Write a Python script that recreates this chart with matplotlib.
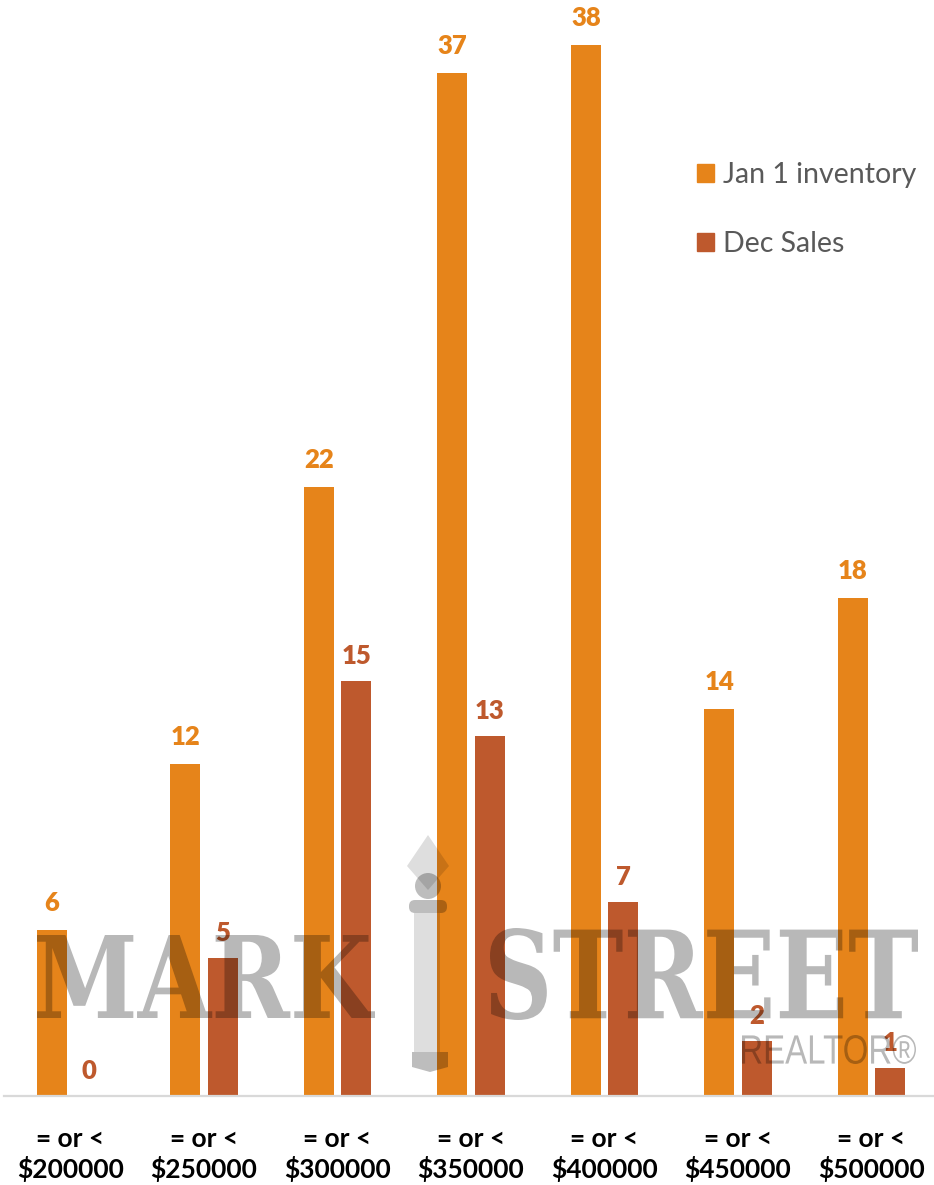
import matplotlib
matplotlib.use("Agg")
import matplotlib.pyplot as plt
import numpy as np
from matplotlib.patches import Patch, PathPatch, Polygon, Circle, FancyBboxPatch, Rectangle
from matplotlib.textpath import TextPath
from matplotlib.font_manager import FontProperties
from matplotlib.transforms import Affine2D

categories = ["= or <\n$200000", "= or <\n$250000", "= or <\n$300000", "= or <\n$350000",
              "= or <\n$400000", "= or <\n$450000", "= or <\n$500000"]
jan_inventory = [6, 12, 22, 37, 38, 14, 18]
dec_sales = [0, 5, 15, 13, 7, 2, 1]
series_names = ["Jan 1 inventory", "Dec Sales"]

C_ORANGE = "#E6841A"
C_DARK = "#BE592D"
FONT = "Lato"

W, H = 934, 1185
fig = plt.figure(figsize=(W / 100, H / 100), dpi=100)
base_y = 1096
px_per_unit = 27.66
ymax = (base_y - 0.5) / px_per_unit
ax = fig.add_axes([3.75 / W, (H - base_y) / H, 934.5 / W, (base_y - 0.5) / H])

x = np.arange(len(categories))
bw = 0.225
off = 0.139
b1 = ax.bar(x - off, jan_inventory, bw, color=C_ORANGE, zorder=2)
b2 = ax.bar(x + off, dec_sales, bw, color=C_DARK, zorder=2)

ax.set_xlim(-0.5, len(categories) - 0.5)
ax.set_ylim(0, ymax)
for s in ["top", "left", "right"]:
    ax.spines[s].set_visible(False)
ax.spines["bottom"].set_color("#D9D9D9")
ax.spines["bottom"].set_linewidth(1.6)
ax.set_yticks([])
ax.set_xticks(x)
ax.set_xticklabels(categories, fontsize=19, fontweight="bold", family=FONT,
                   linespacing=1.25, color="black")
ax.tick_params(axis="x", length=0, pad=22)

for xi, v in zip(x - off, jan_inventory):
    ax.annotate(str(v), (xi, v), xytext=(0, 19), textcoords="offset pixels",
                ha="center", va="baseline", fontsize=18.5, fontweight="heavy",
                family=FONT, color=C_ORANGE, zorder=6, annotation_clip=False)
for xi, v in zip(x + off, dec_sales):
    ax.annotate(str(v), (xi, v), xytext=(0, 17), textcoords="offset pixels",
                ha="center", va="baseline", fontsize=18.5, fontweight="heavy",
                family=FONT, color=C_DARK, zorder=6, annotation_clip=False)

handles = [Patch(color=C_ORANGE), Patch(color=C_DARK)]
leg = fig.legend(handles, series_names, loc="upper left",
                 bbox_to_anchor=(697 / W, (H - 162) / H), frameon=False,
                 prop=FontProperties(family=FONT, size=20.5),
                 handlelength=0.6, handleheight=0.6, handletextpad=0.32,
                 labelspacing=1.5, borderpad=0, borderaxespad=0)
for t in leg.get_texts():
    t.set_color("#595959")

# --- watermark (logo) in pixel coordinates of the image ---
pix = Affine2D().scale(1 / W, 1 / H) + fig.transFigure


def fit_text(s, box, fp, color, alpha, z=5):
    tp = TextPath((0, 0), s, size=100, prop=fp)
    ext = tp.get_extents()
    x0, y0, x1, y1 = box
    tr = (Affine2D().translate(-ext.x0, -ext.y0)
          .scale((x1 - x0) / ext.width, (y1 - y0) / ext.height)
          .translate(x0, H - y1))
    p = PathPatch(tr.transform_path(tp), transform=pix, facecolor=color,
                  edgecolor="none", alpha=alpha, zorder=z)
    fig.add_artist(p)


serif = FontProperties(family="DejaVu Serif", weight="bold")
sans = FontProperties(family="Liberation Sans", weight="normal")
fit_text("MARK", (37, 935, 375, 1018), serif, "black", 0.28)
fit_text("STREET", (490, 928, 918, 1020), serif, "black", 0.28)
fit_text("REALTOR®", (742, 1035, 916, 1064), sans, "black", 0.28)


def fy(y):
    return H - y


light = dict(facecolor="black", alpha=0.13, edgecolor="none", transform=pix, zorder=5)
dark = dict(facecolor="black", alpha=0.26, edgecolor="none", transform=pix, zorder=5)
fig.add_artist(Polygon([(428, fy(835)), (449, fy(866)), (428, fy(890)), (407, fy(866))], **light))
fig.add_artist(Rectangle((414, fy(1052)), 26, 1052 - 913, **light))
fig.add_artist(Circle((428, fy(886)), 13, **dark))
fig.add_artist(FancyBboxPatch((409, fy(913)), 38, 13,
                              boxstyle="round,pad=0,rounding_size=6", **dark))
fig.add_artist(Polygon([(412, fy(1052)), (448, fy(1052)), (448, fy(1067)),
                        (430, fy(1072)), (412, fy(1067))], **dark))

fig.savefig("out.png", dpi=100, facecolor="white")
